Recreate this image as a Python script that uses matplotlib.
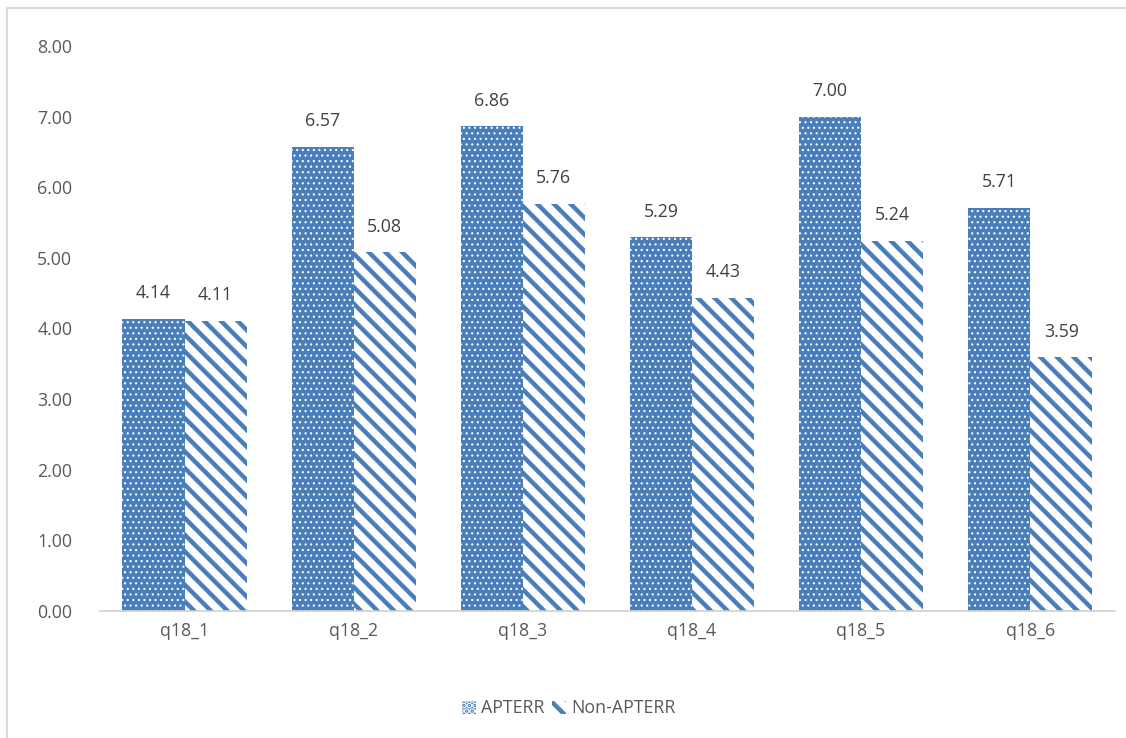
import matplotlib.pyplot as plt
import numpy as np
from matplotlib.lines import Line2D

plt.rcParams['font.family'] = ['Open Sans', 'DejaVu Sans']

categories = ['q18_1', 'q18_2', 'q18_3', 'q18_4', 'q18_5', 'q18_6']
apterr = [4.14, 6.57, 6.86, 5.29, 7.00, 5.71]
non_apterr = [4.11, 5.08, 5.76, 4.43, 5.24, 3.59]
yticks = [0, 1, 2, 3, 4, 5, 6, 7, 8]

blue = '#4a7ebb'
gray = '#595959'
fs = 12.8

fig = plt.figure(figsize=(11.26, 7.38), dpi=100)
ax = fig.add_axes([0.0888, 0.172, 0.9012, 0.7658])

x = np.arange(len(categories))
w = 0.367

plt.rcParams['hatch.linewidth'] = 3.2
b1 = ax.bar(x - w / 2, apterr, w, color=blue, edgecolor='white', linewidth=0,
            hatch='...', label='APTERR')
b2 = ax.bar(x + w / 2, non_apterr, w, color='white', edgecolor=blue, linewidth=0,
            hatch='\\\\', label='Non-APTERR')
for p in b1:
    if hasattr(p, 'set_hatch_linewidth'):
        p.set_hatch_linewidth(0.8)
for p in b2:
    if hasattr(p, 'set_hatch_linewidth'):
        p.set_hatch_linewidth(3.2)

for bars, vals in ((b1, apterr), (b2, non_apterr)):
    for p, v in zip(bars, vals):
        ax.annotate(f'{v:.2f}', (p.get_x() + p.get_width() / 2, v),
                    xytext=(0, 12), textcoords='offset points',
                    ha='center', va='bottom', fontsize=fs, color='#404040')

ax.set_xlim(-0.5, len(categories) - 0.5)
ax.set_ylim(0, 8)
ax.set_yticks(yticks)
ax.set_yticklabels([f'{t:.2f}' for t in yticks])
ax.set_xticks(x)
ax.set_xticklabels(categories)
ax.tick_params(length=0, labelsize=fs, colors=gray)
ax.tick_params(axis='y', pad=20)
ax.tick_params(axis='x', pad=8)
for s in ['top', 'right', 'left']:
    ax.spines[s].set_visible(False)
ax.spines['bottom'].set_color('#d0d0d0')
ax.spines['bottom'].set_linewidth(1.2)

leg = fig.legend(handles=[b1, b2], loc='center', bbox_to_anchor=(0.505, 0.04),
                 ncol=2, frameon=False, fontsize=fs, handlelength=0.8,
                 handleheight=0.8, handletextpad=0.3, columnspacing=0.4)
for t in leg.get_texts():
    t.set_color(gray)

# chart frame edges
fig.add_artist(Line2D([7 / 1126, 1], [1 - 8 / 738, 1 - 8 / 738], color='#d9d9d9', lw=1.5))
fig.add_artist(Line2D([7 / 1126, 7 / 1126], [0, 1 - 8 / 738], color='#d9d9d9', lw=1.5))

fig.savefig('out.png', dpi=100)
